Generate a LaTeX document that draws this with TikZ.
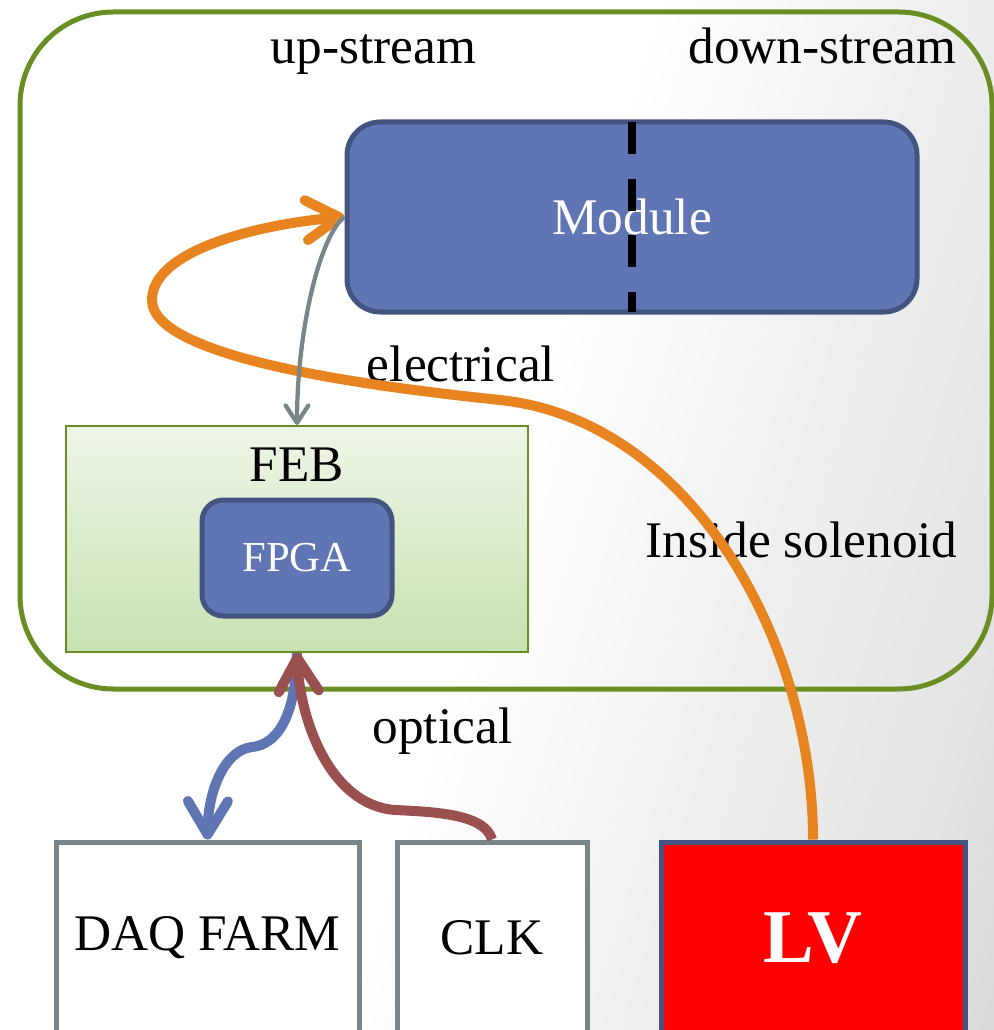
\documentclass[tikz,border=0pt]{standalone}
\usepackage{fontspec}
\setmainfont{Liberation Serif}
\usetikzlibrary{arrows.meta}

\definecolor{solgreen}{RGB}{106,142,35}
\definecolor{modblue}{RGB}{95,117,180}
\definecolor{modedge}{RGB}{68,84,128}
\definecolor{febtop}{RGB}{238,246,232}
\definecolor{febbot}{RGB}{199,226,177}
\definecolor{grayarrow}{RGB}{120,134,138}
\definecolor{orangearrow}{RGB}{232,132,32}
\definecolor{redarrow}{RGB}{155,80,80}
\definecolor{boxgray}{RGB}{120,134,138}
\definecolor{lvred}{RGB}{255,0,0}

\pgfdeclarehorizontalshading{bgsh}{100bp}{color(0bp)=(white); color(50bp)=(white); color(57bp)=(black!7); color(61bp)=(black!10); color(65bp)=(black!16); color(100bp)=(black!20)}

\begin{document}
\begin{tikzpicture}[x=0.75pt,y=-0.75pt,
  lbl/.style={font=\fontsize{38.5}{42}\selectfont, inner sep=0pt, anchor=base},
  bluebox/.style={draw=modedge, fill=modblue, line width=3.75pt, text=white, inner sep=0pt},
  outbox/.style={draw=boxgray, fill=white, line width=3.75pt, inner sep=0pt, font=\fontsize{38.5}{42}\selectfont},
  fatline/.style={line width=7.5pt},
  bigtip/.style={-{Straight Barb[length=25pt,width=30pt,round]}},
]
\useasboundingbox (0,0) rectangle (994,1030);
\clip (0,0) rectangle (994,1030);
\begin{scope}[transform canvas={rotate around={-17:(497,515)}}]
  \shade[shading=bgsh] (-603,-585) rectangle (1597,1615);
\end{scope}

% solenoid region
\node[draw=solgreen, line width=3.75pt, rounded corners=70pt, minimum width=729pt, minimum height=507.75pt, inner sep=0pt] (sol) at (506,350.5) {};

% FEB
\node[draw=solgreen, line width=1.5pt, top color=febtop, bottom color=febbot, minimum width=346.5pt, minimum height=169.5pt, inner sep=0pt] (feb) at (297,539) {};
\node[lbl] (feblbl) at (297,481) {FEB};
\node[bluebox, rounded corners=16pt, minimum width=142.5pt, minimum height=87pt, font=\fontsize{32}{36}\selectfont] (fpga) at (297,558) {FPGA};

% Module
\node[bluebox, rounded corners=25pt, minimum width=427.5pt, minimum height=142.5pt, font=\fontsize{38.5}{42}\selectfont] (mod) at (632,217) {Module};
\draw[line width=5.5pt, dash pattern=on 24pt off 18.5pt] (632,122) -- (632,312);

% labels
\node[lbl] (up) at (373.5,64) {up-stream};
\node[lbl] (down) at (822.5,64) {down-stream};
\node[lbl] (elec) at (461,381) {electrical};
\node[lbl] (inside) at (801.5,557) {Inside solenoid};
\node[lbl] (opt) at (442.5,743) {optical};

% bottom boxes
\node[outbox, minimum width=227.25pt, minimum height=144pt] (daq) at (207.5,938) {DAQ FARM};
\node[outbox, minimum width=142.5pt, minimum height=144pt] (clk) at (492,938) {CLK};
\node[draw=modedge, fill=lvred, line width=3.75pt, inner sep=0pt, text=white, minimum width=228pt, minimum height=144pt, font=\fontsize{57}{60}\selectfont\bfseries] (lv) at (813,938) {LV};

% connectors
\draw[fatline, orangearrow, bigtip] (lv.north) .. controls (813,640) and (690,420) .. (500,400)
   .. controls (386,388) and (152,360) .. (152,300)
   .. controls (152,250) and (260,224) .. (mod.west);
\draw[line width=3.2pt, grayarrow, -{Straight Barb[length=13pt,width=17pt,round]}] (mod.west) .. controls (320,235) and (297,330) .. (feb.north);
\draw[fatline, modblue, bigtip] (feb.south) .. controls (296,720) and (275,745) .. (252,747)
   .. controls (225,750) and (208,790) .. (daq.north);
\draw[fatline, redarrow, bigtip] (clk.north) .. controls (485,815) and (440,812) .. (395,810)
   .. controls (330,805) and (300,720) .. (feb.south);
\end{tikzpicture}
\end{document}
